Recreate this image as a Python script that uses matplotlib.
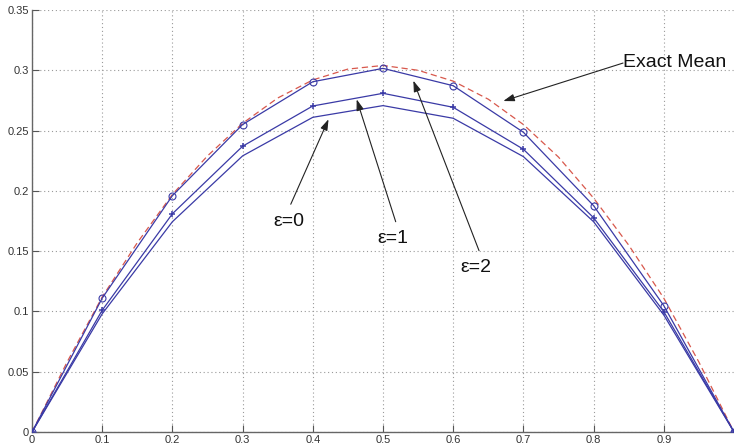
import matplotlib
matplotlib.use("Agg")
import matplotlib.pyplot as plt

# ---- data ----
x_pts = [0.0, 0.1, 0.2, 0.3, 0.4, 0.5, 0.6, 0.7, 0.8, 0.9, 1.0]
eps0 = [0.0, 0.098, 0.1744, 0.2290, 0.2610, 0.2707, 0.2602, 0.2284, 0.1744, 0.0970, 0.0]
eps1 = [0.0, 0.101, 0.1810, 0.2370, 0.2704, 0.2809, 0.2693, 0.2345, 0.1777, 0.0998, 0.0]
eps2 = [0.0, 0.111, 0.1960, 0.2550, 0.2905, 0.3016, 0.2872, 0.2486, 0.1877, 0.1048, 0.0]

x_exact = [0.0, 0.05, 0.1, 0.15, 0.2, 0.25, 0.3, 0.35, 0.4, 0.45, 0.5,
           0.55, 0.6, 0.65, 0.7, 0.75, 0.8, 0.85, 0.9, 0.95, 1.0]
y_exact = [0.0, 0.058, 0.112, 0.157, 0.197, 0.229, 0.256, 0.277, 0.292, 0.301, 0.304,
           0.300, 0.291, 0.276, 0.255, 0.228, 0.194, 0.155, 0.111, 0.058, 0.0]

xticks = [0, 0.1, 0.2, 0.3, 0.4, 0.5, 0.6, 0.7, 0.8, 0.9]
xtick_labels = ["0", "0.1", "0.2", "0.3", "0.4", "0.5", "0.6", "0.7", "0.8", "0.9"]
yticks = [0, 0.05, 0.1, 0.15, 0.2, 0.25, 0.3, 0.35]
ytick_labels = ["0", "0.05", "0.1", "0.15", "0.2", "0.25", "0.3", "0.35"]

# annotation labels: (text, text pos, arrow tail, arrow head)
labels = ["\u03b5=0", "\u03b5=1", "\u03b5=2", "Exact Mean"]
label_pos = [(0.3433, 0.1746), (0.4915, 0.1605), (0.6097, 0.1364), (0.8419, 0.3065)]
arrow_tail = [(0.3686, 0.1889), (0.5181, 0.1744), (0.6368, 0.1504), (0.8419, 0.3060)]
arrow_head = [(0.4224, 0.2594), (0.4625, 0.2759), (0.5432, 0.2914), (0.6714, 0.2745)]

plt.rcParams['font.family'] = ['Liberation Sans', 'DejaVu Sans']

fig = plt.figure(figsize=(7.34, 4.47), dpi=100)
ax = fig.add_axes([32 / 734, 15 / 447, 1 - 32 / 734, (432 - 10) / 447])

blue = '#3a3aa6'
ax.plot(x_exact, y_exact, color='#d8584c', lw=0.9, ls=(0, (5, 3)), zorder=2)
ax.plot(x_pts, eps0, color=blue, lw=0.9, zorder=3)
ax.plot(x_pts, eps1, color=blue, lw=0.9, marker='+', ms=5, mew=1.1, zorder=3)
ax.plot(x_pts, eps2, color=blue, lw=0.9, marker='o', ms=5, mfc='none', mew=0.8, zorder=3)

for txt, p, t, h in zip(labels, label_pos, arrow_tail, arrow_head):
    ax.annotate('', xy=h, xytext=t,
                arrowprops=dict(arrowstyle='-|>,head_length=0.6,head_width=0.2',
                                color='#222222', lw=0.8,
                                mutation_scale=11, shrinkA=0, shrinkB=0))
    ax.text(p[0], p[1], txt, ha='left', va='center', fontsize=14, color='#111111')

ax.set_xlim(0, 1)
ax.set_ylim(0, 0.35)
ax.set_xticks(xticks)
ax.set_xticklabels(xtick_labels)
ax.set_yticks(yticks)
ax.set_yticklabels(ytick_labels)
ax.grid(True, color='#9a9a9a', ls=(0, (1, 2.5)), lw=0.8)
ax.set_axisbelow(True)
ax.tick_params(direction='in', length=5, width=0.8, colors='#555555',
               labelsize=8, labelcolor='#333333', pad=2)
for s in ['top', 'right']:
    ax.spines[s].set_visible(False)
for s in ['left', 'bottom']:
    ax.spines[s].set_color('#666666')
    ax.spines[s].set_linewidth(1.0)

fig.savefig('out.png', dpi=100, facecolor='white')
